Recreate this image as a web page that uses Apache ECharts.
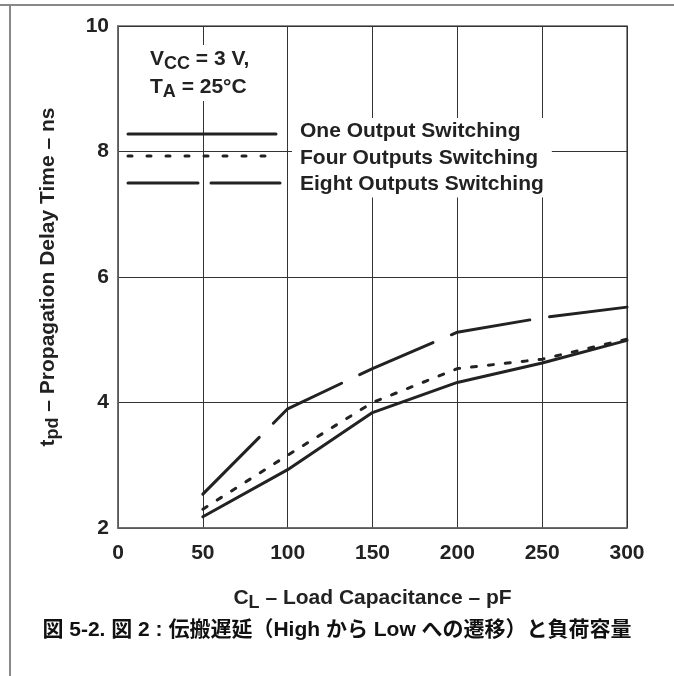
<!DOCTYPE html>
<html><head><meta charset="utf-8">
<script src="https://cdn.jsdelivr.net/npm/echarts@6/dist/echarts.min.js"></script>
<style>html,body{margin:0;padding:0;background:#fff}#c{width:674px;height:676px}</style>
</head><body><div id="c"></div><script>
const capacitance = [50, 100, 150, 200, 250, 300];
const oneOutput = [2.18, 2.93, 3.84, 4.32, 4.63, 4.99];
const fourOutputs = [2.30, 3.16, 4.00, 4.54, 4.69, 5.01];
const eightOutputs = [2.54, 3.90, 4.54, 5.12, 5.35, 5.52];
const seriesNames = ['One Output Switching', 'Four Outputs Switching', 'Eight Outputs Switching'];
const xName = 'C{s|L} – Load Capacitance – pF';
const yName = 't{s|pd} – Propagation Delay Time – ns';
const conditionText = '{n|V}{s|CC}{n| = 3 V,}\n{n|T}{s|A}{n| = 25°C}';
const captionText = '図 5-2. 図 2 : 伝搬遅延（High から Low への遷移）と負荷容量';

const FONT = '"Liberation Sans", Arial, Helvetica, sans-serif';
const INK = '#222';
const dashes = ['solid', [5, 12], [80, 20]];
const legendDashes = [null, [4, 15], [70, 13]];

function pairs(ys) { return capacitance.map((x, i) => [x, ys[i]]); }
const subRich = { s: { fontSize: 18, fontWeight: 'bold', fontFamily: FONT, color: INK, padding: [10, 0, 0, 0] } };

const chart = echarts.init(document.getElementById('c'), null, { renderer: 'canvas' });
const legendYs = [134, 156, 183];
const legendGraphics = legendYs.map((y, i) => ({
  type: 'line', z: 110,
  shape: { x1: 128, y1: y, x2: i === 1 ? 272 : (i === 2 ? 280 : 276), y2: y },
  style: { stroke: INK, lineWidth: 3, lineCap: 'round', lineDash: legendDashes[i] }
}));

chart.setOption({
  animation: false,
  backgroundColor: '#fff',
  grid: { left: 118, right: 47, top: 26, bottom: 148, show: true, borderColor: '#666', borderWidth: 1.5, backgroundColor: 'transparent' },
  xAxis: {
    type: 'value', min: 0, max: 300, interval: 50,
    name: xName, nameLocation: 'middle', nameGap: 56,
    nameTextStyle: { fontSize: 21, fontWeight: 'bold', fontFamily: FONT, color: INK, rich: subRich },
    axisLine: { show: true, lineStyle: { color: '#666', width: 1.5 } },
    axisTick: { show: false },
    axisLabel: { fontSize: 21, fontWeight: 'bold', fontFamily: FONT, color: INK, margin: 15 },
    splitLine: { show: true, lineStyle: { color: '#333', width: 1 } }
  },
  yAxis: {
    type: 'value', min: 2, max: 10, interval: 2,
    name: yName, nameLocation: 'middle', nameGap: 56, nameRotate: 90,
    nameTextStyle: { fontSize: 21, fontWeight: 'bold', fontFamily: FONT, color: INK, rich: subRich },
    axisLine: { show: true, lineStyle: { color: '#666', width: 1.5 } },
    axisTick: { show: false },
    axisLabel: { fontSize: 21, fontWeight: 'bold', fontFamily: FONT, color: INK, margin: 9 },
    splitLine: { show: true, lineStyle: { color: '#333', width: 1 } }
  },
  series: [oneOutput, fourOutputs, eightOutputs].map((d, i) => ({
    name: seriesNames[i], type: 'line', data: pairs(d), symbol: 'none', z: 5,
    lineStyle: { color: INK, width: 3, type: dashes[i], cap: 'round', join: 'round' }
  })),
  graphic: [
    { type: 'line', z: 120, shape: { x1: 0, y1: 5, x2: 674, y2: 5 }, style: { stroke: '#888', lineWidth: 2 } },
    { type: 'line', z: 120, shape: { x1: 10, y1: 5, x2: 10, y2: 676 }, style: { stroke: '#888', lineWidth: 2 } },
    { type: 'text', z: 100, x: 146, y: 45,
      style: { text: conditionText, backgroundColor: '#fff', padding: [0, 4, 0, 4],
        rich: {
          n: { fontSize: 21, fontWeight: 'bold', fontFamily: FONT, fill: INK, color: INK, lineHeight: 28 },
          s: { fontSize: 18, fontWeight: 'bold', fontFamily: FONT, fill: INK, color: INK, lineHeight: 28, padding: [10, 0, 0, 0] }
        } } },
    { type: 'text', z: 100, x: 292, y: 118,
      style: { text: seriesNames.join('\n'), fontSize: 21, fontWeight: 'bold', fontFamily: FONT, fill: INK,
        lineHeight: 26.5, backgroundColor: '#fff', padding: [0, 8, 0, 8] } },
    ...legendGraphics,
    { type: 'text', z: 100, x: 337, y: 630,
      style: { text: captionText, fontSize: 21, fontWeight: 'bold', fontFamily: '"Liberation Sans", "Noto Sans CJK JP", sans-serif',
        fill: '#111', align: 'center', verticalAlign: 'middle' } }
  ]
});
</script></body></html>
